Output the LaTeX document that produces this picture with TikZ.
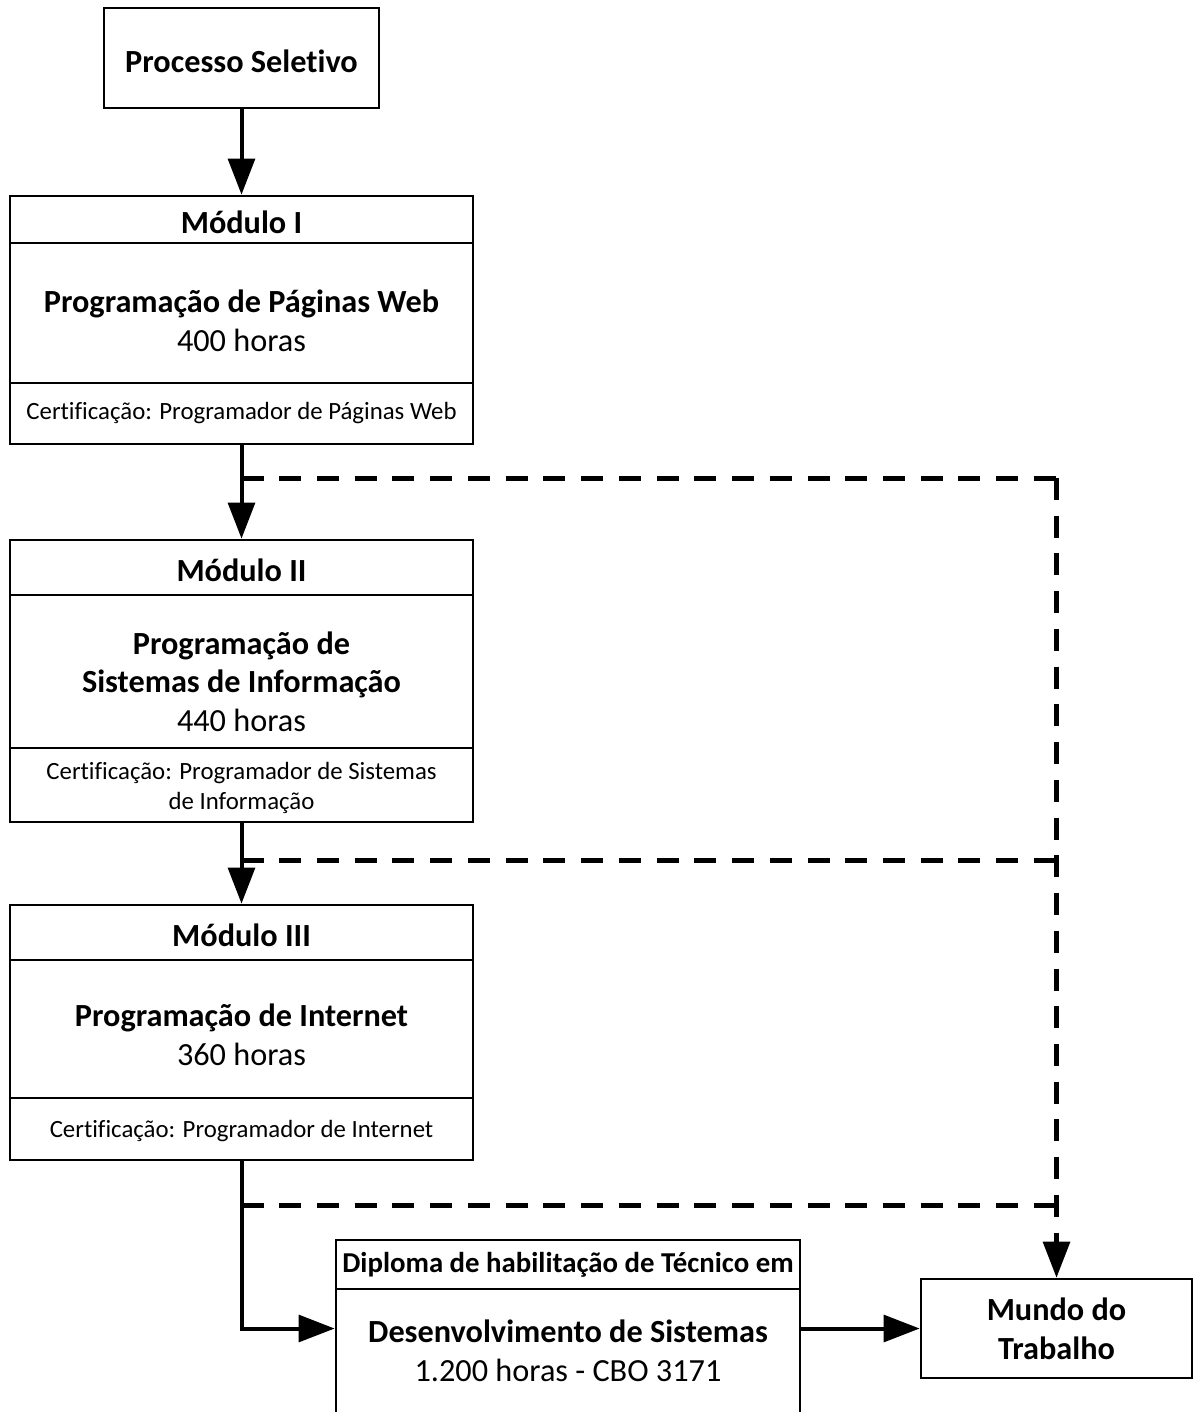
\documentclass[tikz,border=0pt]{standalone}
\usepackage{fontspec}
\setmainfont{Carlito}[Ligatures={NoCommon}]
\usetikzlibrary{arrows.meta}
\begin{document}
\begin{tikzpicture}[x=0.75pt,y=-0.75pt,
  box/.style={draw,line width=2pt,inner sep=0pt,align=center},
  txt/.style={inner sep=0pt,align=center},
  ttl/.style={font=\fontsize{24.2}{29}\selectfont},
  cert/.style={font=\fontsize{18.6}{22.5}\selectfont},
  flow/.style={line width=3pt,-{Triangle[length=27pt,width=20pt]}},
  dsh/.style={line width=3.75pt,dash pattern=on 16.5pt off 11.8pt}]
\useasboundingbox (0,0) rectangle (1193,1412);
% Processo Seletivo
\node[box,minimum width=275*0.75pt,minimum height=100*0.75pt] (ps) at (241.5,58) {};
\node[txt,ttl] (pst) at ([yshift=-2.2pt]ps.center) {\bfseries Processo Seletivo};
% Modulo I
\node[box,minimum width=463*0.75pt,minimum height=47*0.75pt] (m1h) at (241.5,219.5) {};
\node[txt,ttl] (m1ht) at ([yshift=-2.2pt]m1h.center) {\bfseries Módulo I};
\node[box,minimum width=463*0.75pt,minimum height=140*0.75pt] (m1b) at (241.5,313) {};
\node[txt,ttl] (m1bt) at ([yshift=-6pt]m1b.center) {\textbf{Programação de Páginas Web}\\400 horas};
\node[box,cert,minimum width=463*0.75pt,minimum height=61*0.75pt] (m1c) at (241.5,413.5) {Certificação: Programador de Páginas Web};
% Modulo II
\node[box,minimum width=463*0.75pt,minimum height=55*0.75pt] (m2h) at (241.5,567.5) {};
\node[txt,ttl] (m2ht) at ([yshift=-2.2pt]m2h.center) {\bfseries Módulo II};
\node[box,minimum width=463*0.75pt,minimum height=153*0.75pt] (m2b) at (241.5,671.5) {};
\node[txt,ttl] (m2bt) at ([yshift=-7.5pt]m2b.center) {\textbf{Programação de}\\\textbf{Sistemas de Informação}\\440 horas};
\node[box,minimum width=463*0.75pt,minimum height=74*0.75pt] (m2c) at (241.5,785) {};
\node[txt,cert] (m2ct) at ([yshift=-2.2pt]m2c.center) {Certificação: Programador de Sistemas\\de Informação};
% Modulo III
\node[box,minimum width=463*0.75pt,minimum height=55*0.75pt] (m3h) at (241.5,932.5) {};
\node[txt,ttl] (m3ht) at ([yshift=-2.2pt]m3h.center) {\bfseries Módulo III};
\node[box,minimum width=463*0.75pt,minimum height=138*0.75pt] (m3b) at (241.5,1029) {};
\node[txt,ttl] (m3bt) at ([yshift=-4.5pt]m3b.center) {\textbf{Programação de Internet}\\360 horas};
\node[box,minimum width=463*0.75pt,minimum height=62*0.75pt] (m3c) at (241.5,1129) {};
\node[txt,cert] (m3ct) at ([yshift=-1.5pt]m3c.center) {Certificação: Programador de Internet};
% Diploma
\node[box,font=\bfseries\fontsize{21.6}{25}\selectfont,minimum width=464*0.75pt,minimum height=49*0.75pt] (dh) at (568,1264.5) {Diploma de habilitação de Técnico em};
\node[box,ttl,minimum width=464*0.75pt,minimum height=124*0.75pt] (db) at (568,1351) {\textbf{Desenvolvimento de Sistemas}\\1.200 horas - CBO 3171};
% Mundo do Trabalho
\node[box,ttl,minimum width=271*0.75pt,minimum height=99*0.75pt] (mw) at (1056.5,1328.5) {\bfseries Mundo do\\\bfseries Trabalho};
% branch coordinates
\coordinate (b1) at (241.5,478);
\coordinate (b2) at (241.5,860);
\coordinate (b3) at (241.5,1205);
\coordinate (r1) at (1056.5,478);
% solid connectors
\draw[flow] (ps) -- (m1h);
\draw[flow] (m1c) -- (m2h);
\draw[flow] (m2c) -- (m3h);
\draw[flow] (m3c.south) |- (db.west |- mw.center);
\draw[flow] (db.east |- mw.center) -- (mw.west);
% dashed connectors
\draw[dsh] (b1) -- (r1);
\draw[dsh] (b2) -- (r1 |- b2);
\draw[dsh] (b3) -- (r1 |- b3);
\draw[dsh] (r1) -- ([yshift=27pt]mw.north);
\draw[line width=3pt,-{Triangle[length=27pt,width=20pt]}] ([yshift=27.5pt]mw.north) -- (mw.north);
\end{tikzpicture}
\end{document}
